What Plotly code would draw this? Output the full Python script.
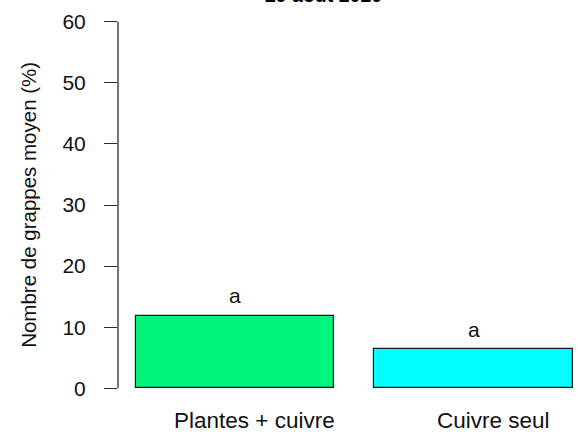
import plotly.graph_objects as go

categories = ["Plantes + cuivre", "Cuivre seul"]
values = [11.9, 6.4]
letters = ["a", "a"]
positions = [0.7, 1.9]
colors = ["#02F47C", "#00FFFF"]
yticks = [0, 10, 20, 30, 40, 50, 60]
title_text = "29 août 2020"
ylabel = "Nombre de grappes moyen (%)"

FONT = "Liberation Sans, Arial, sans-serif"
AX = "#2b2b2b"

fig = go.Figure()
fig.add_trace(go.Bar(
    x=positions, y=values, width=1.0,
    marker=dict(color=colors, line=dict(color="#1a1a1a", width=1.2)),
    showlegend=False, hoverinfo="skip",
))

annotations = []
for p, v, l in zip(positions, values, letters):
    annotations.append(dict(x=p, y=v, xref="x", yref="y", text=l, showarrow=False,
                            yanchor="middle", yshift=20,
                            font=dict(family=FONT, size=21, color="#111")))
for p, c in zip(positions, categories):
    annotations.append(dict(x=p, y=-0.043, xref="x", yref="paper", text=c, showarrow=False,
                            yanchor="middle", xshift=20,
                            font=dict(family=FONT, size=22.5, color="#111")))
annotations.append(dict(x=-0.196, y=0.5, xref="paper", yref="paper", text=ylabel,
                        showarrow=False, textangle=-90, xanchor="center", yanchor="middle",
                        font=dict(family=FONT, size=20.5, color="#111")))
annotations.append(dict(x=0.4467, y=1.0305, xref="paper", yref="paper", text="<b>" + title_text + "</b>",
                        showarrow=False, xanchor="center", yanchor="middle",
                        font=dict(family=FONT, size=19.5, color="#000")))

fig.add_shape(type="line", xref="paper", yref="y", x0=0, x1=0, y0=yticks[0], y1=yticks[-1],
              line=dict(color=AX, width=1.3))

fig.update_layout(
    width=578, height=432,
    margin=dict(l=118, r=0, t=7, b=29),
    paper_bgcolor="white", plot_bgcolor="white",
    bargap=0,
    annotations=annotations,
    xaxis=dict(range=[0.112, 2.425], showticklabels=False, showgrid=False, zeroline=False,
               showline=False, ticks=""),
    yaxis=dict(range=[-2.4, 62.4], tickvals=yticks, ticks="outside", ticklen=13, tickwidth=1.3,
               tickcolor=AX, showgrid=False, zeroline=False, showline=False,
               ticklabelstandoff=14,
               tickfont=dict(family=FONT, size=21, color="#111")),
)

fig.write_html("out.html", config={"displayModeBar": False},
               post_script="document.body.style.margin='0';document.body.style.overflow='hidden';")
